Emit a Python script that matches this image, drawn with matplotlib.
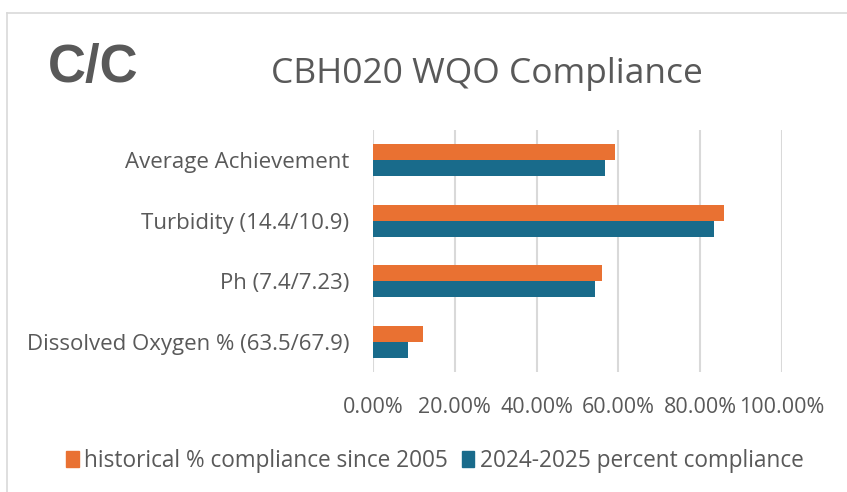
import matplotlib
matplotlib.use("Agg")
import matplotlib.pyplot as plt
from matplotlib.lines import Line2D
from matplotlib.patches import Patch
from matplotlib.ticker import PercentFormatter

# values (fractions of 1)
categories = ["Dissolved Oxygen % (63.5/67.9)", "Ph (7.4/7.23)",
              "Turbidity (14.4/10.9)", "Average Achievement"]
historical = [0.123, 0.561, 0.859, 0.592]
current = [0.086, 0.542, 0.833, 0.567]
series_names = ["historical % compliance since 2005", "2024-2025 percent compliance"]
x_ticks = [0, 0.2, 0.4, 0.6, 0.8, 1.0]

ORANGE = "#e97132"
BLUE = "#196b8b"
TEXT = "#595959"
GRID = "#d9d9d9"

plt.rcParams["font.family"] = ["Open Sans", "DejaVu Sans"]

W, H = 847, 492
fig = plt.figure(figsize=(W / 100, H / 100), dpi=100)

# plot area in pixels: x 373..782, y 130..372
ax = fig.add_axes([373 / W, 1 - 372 / H, (782 - 373) / W, (372 - 130) / H])

pos = list(range(len(categories)))
bh = 0.265
ax.barh([p + bh / 2 for p in pos], historical, height=bh, color=ORANGE, zorder=3)
ax.barh([p - bh / 2 for p in pos], current, height=bh, color=BLUE, zorder=3)

ax.set_xlim(0, 1.0)
ax.set_ylim(-0.5, len(categories) - 0.5)
ax.set_xticks(x_ticks)
ax.xaxis.set_major_formatter(PercentFormatter(1.0, decimals=2))
ax.set_yticks(pos)
ax.set_yticklabels(categories)
ax.grid(axis="x", color=GRID, lw=1.5, zorder=0)
for s in ax.spines.values():
    s.set_visible(False)
ax.tick_params(axis="x", length=0, pad=18, labelsize=15.5, labelcolor=TEXT)
ax.tick_params(axis="y", length=0, pad=17, labelsize=16, labelcolor=TEXT)

# titles
fig.text(48 / W, 1 - 68 / H, "C/C", fontsize=38, fontweight="bold", color=TEXT,
         family=["Liberation Sans", "DejaVu Sans"], va="center", ha="left")
fig.text(487 / W, 1 - 74 / H, "CBH020 WQO Compliance", fontsize=25.5, color=TEXT,
         va="center", ha="center")

# legend
handles = [Patch(color=ORANGE), Patch(color=BLUE)]
fig.legend(handles, series_names, loc="center", bbox_to_anchor=(435 / W, 1 - 461 / H),
           ncol=2, frameon=False, fontsize=16.3, labelcolor=TEXT,
           handlelength=0.55, handleheight=0.7, handletextpad=0.25, columnspacing=0.6)

# chart border (left and top edges visible)
fig.add_artist(Line2D([7 / W, 7 / W], [0, 1 - 13 / H], transform=fig.transFigure,
                      color=GRID, lw=1.2))
fig.add_artist(Line2D([7 / W, 1], [1 - 13 / H, 1 - 13 / H], transform=fig.transFigure,
                      color=GRID, lw=1.2))

fig.savefig("out.png", dpi=100)
